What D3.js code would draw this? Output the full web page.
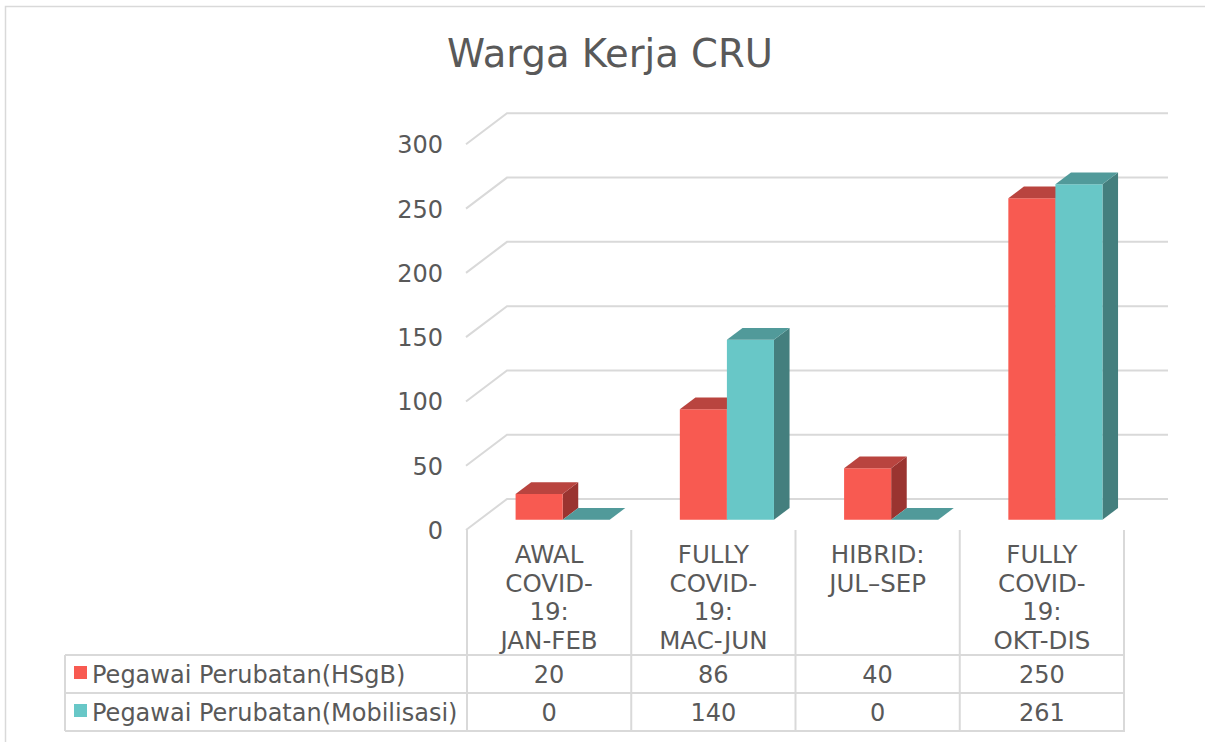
<!DOCTYPE html>
<html>
<head>
<meta charset="utf-8">
<script src="https://cdn.jsdelivr.net/npm/d3@7"></script>
<style>
  body { margin: 0; background: #fff; }
  text { font-family: "DejaVu Sans", Verdana, sans-serif; fill: #595959; }
</style>
</head>
<body>
<div id="chart"></div>
<script>
// chart data
const TITLE = "Warga Kerja CRU";
const categories = ["AWAL COVID-19: JAN-FEB", "FULLY COVID-19: MAC-JUN", "HIBRID: JUL–SEP", "FULLY COVID-19: OKT-DIS"];
const categoryLines = [
  ["AWAL", "COVID-", "19:", "JAN-FEB"],
  ["FULLY", "COVID-", "19:", "MAC-JUN"],
  ["HIBRID:", "JUL–SEP"],
  ["FULLY", "COVID-", "19:", "OKT-DIS"]
];
const seriesNames = ["Pegawai Perubatan(HSgB)", "Pegawai Perubatan(Mobilisasi)"];
const hsgbValues = [20, 86, 40, 250];
const mobilisasiValues = [0, 140, 0, 261];
const yTicks = [0, 50, 100, 150, 200, 250, 300];

// layout
const WIDTH = 1205, HEIGHT = 742;
const PLOT = { left: 467, right: 1124, zero: 530 };
const DEPTH = { dx: 41, dy: -31 };          // floor depth, front to back wall
const BAR_FRONT = 0.33, BAR_BACK = 0.71;     // bar depth as fraction of floor depth
const TABLE = { left: 65, top: 655, rowH: 38 };

const COLORS = [
  { front: "#f85a51", top: "#b9443f", side: "#9a3430" },
  { front: "#68c7c7", top: "#519a9a", side: "#447f7e" }
];

const svg = d3.select("#chart").append("svg")
  .attr("width", WIDTH)
  .attr("height", HEIGHT);

// outer chart border
svg.append("path")
  .attr("d", "M5.5," + HEIGHT + " L5.5,6.5 L" + WIDTH + ",6.5")
  .attr("fill", "none")
  .attr("stroke", "#d9d9d9")
  .attr("stroke-width", 1.5);

svg.append("text")
  .attr("x", 610)
  .attr("y", 67)
  .attr("text-anchor", "middle")
  .style("font-size", "38.5px")
  .text(TITLE);

let yScale = d3.scaleLinear()
  .domain([0, 300])
  .range([0, 385.7]);

let xScale = d3.scaleBand()
  .domain(categories)
  .range([PLOT.left, PLOT.right]);

let seriesScale = d3.scaleBand()
  .domain(seriesNames)
  .range([0, xScale.bandwidth()])
  .paddingOuter(0.745);

// point in the plot for (x in front plane, value, depth fraction)
function pt(x, v, d) {
  return [x + DEPTH.dx * d, PLOT.zero - yScale(v) + DEPTH.dy * d];
}

// gridlines: side wall diagonal + back wall line
const grid = svg.append("g");
yTicks.forEach(function (t) {
  let a = pt(PLOT.left - 1, t, 0), b = pt(PLOT.left - 1, t, 1), c = pt(PLOT.right + 3, t, 1);
  grid.append("path")
    .attr("d", "M" + a + " L" + b + " L" + c)
    .attr("fill", "none")
    .attr("stroke", "#d9d9d9")
    .attr("stroke-width", 2);
});

// y axis labels
svg.append("g").selectAll("text")
  .data(yTicks)
  .enter()
  .append("text")
  .attr("x", 443)
  .attr("y", function (t) { return PLOT.zero - yScale(t) + 9; })
  .attr("text-anchor", "end")
  .style("font-size", "24px")
  .text(function (t) { return t; });

// 3D bars
const bars = [];
categories.forEach(function (c, i) {
  bars.push({ cat: c, series: 0, value: hsgbValues[i] });
  bars.push({ cat: c, series: 1, value: mobilisasiValues[i] });
});

const gBars = svg.append("g");
bars.forEach(function (b) {
  let x0 = xScale(b.cat) + seriesScale(seriesNames[b.series]);
  let x1 = x0 + seriesScale.bandwidth();
  let col = COLORS[b.series];
  let fbl = pt(x0, 0, BAR_FRONT), fbr = pt(x1, 0, BAR_FRONT);
  let ftl = pt(x0, b.value, BAR_FRONT), ftr = pt(x1, b.value, BAR_FRONT);
  let btl = pt(x0, b.value, BAR_BACK), btr = pt(x1, b.value, BAR_BACK);
  let bbr = pt(x1, 0, BAR_BACK);
  if (b.value > 0) {
    gBars.append("path")
      .attr("d", "M" + fbr + " L" + ftr + " L" + btr + " L" + bbr + "Z")
      .attr("fill", col.side);
    gBars.append("path")
      .attr("d", "M" + fbl + " L" + ftl + " L" + ftr + " L" + fbr + "Z")
      .attr("fill", col.front);
  }
  gBars.append("path")
    .attr("d", "M" + ftl + " L" + btl + " L" + btr + " L" + ftr + "Z")
    .attr("fill", col.top);
});

// category header + data table
const gTable = svg.append("g");
const tableBottom = TABLE.top + TABLE.rowH * 2;
const lineColor = "#d9d9d9";

xScale.domain().concat(["end"]).forEach(function (c) {
  let x = c === "end" ? PLOT.right : xScale(c);
  gTable.append("line")
    .attr("x1", x).attr("x2", x)
    .attr("y1", PLOT.zero).attr("y2", tableBottom)
    .attr("stroke", lineColor).attr("stroke-width", 2);
});
[TABLE.top, TABLE.top + TABLE.rowH, tableBottom].forEach(function (y) {
  gTable.append("line")
    .attr("x1", TABLE.left).attr("x2", PLOT.right + 1)
    .attr("y1", y).attr("y2", y)
    .attr("stroke", lineColor).attr("stroke-width", 2);
});
gTable.append("line")
  .attr("x1", TABLE.left).attr("x2", TABLE.left)
  .attr("y1", TABLE.top).attr("y2", tableBottom)
  .attr("stroke", lineColor).attr("stroke-width", 2);

// category labels
categoryLines.forEach(function (lines, i) {
  let cx = xScale(categories[i]) + xScale.bandwidth() / 2;
  lines.forEach(function (l, j) {
    gTable.append("text")
      .attr("x", cx)
      .attr("y", 563 + j * 28.7)
      .attr("text-anchor", "middle")
      .style("font-size", "24.5px")
      .text(l);
  });
});

// table rows
[hsgbValues, mobilisasiValues].forEach(function (vals, r) {
  let rowY = TABLE.top + r * TABLE.rowH;
  gTable.append("rect")
    .attr("x", 74).attr("y", rowY + 11)
    .attr("width", 13).attr("height", 13)
    .attr("fill", COLORS[r].front);
  gTable.append("text")
    .attr("x", 92).attr("y", rowY + 28)
    .style("font-size", "24px")
    .text(seriesNames[r]);
  vals.forEach(function (v, i) {
    gTable.append("text")
      .attr("x", xScale(categories[i]) + xScale.bandwidth() / 2)
      .attr("y", rowY + 28)
      .attr("text-anchor", "middle")
      .style("font-size", "24px")
      .text(v);
  });
});
</script>
</body>
</html>
